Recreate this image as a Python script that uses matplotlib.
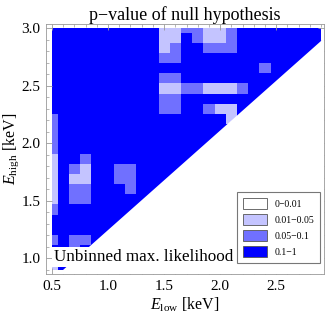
import numpy as np
import matplotlib
matplotlib.use("Agg")
import matplotlib.pyplot as plt
from matplotlib.colors import ListedColormap, BoundaryNorm
from matplotlib.patches import Patch
from matplotlib.ticker import MultipleLocator

plt.rcParams["font.family"] = ["Liberation Serif", "DejaVu Serif"]
plt.rcParams["mathtext.fontset"] = "custom"
plt.rcParams["mathtext.rm"] = "Liberation Serif"
plt.rcParams["mathtext.it"] = "Liberation Serif:italic"

# grid of the scan
e_low = np.linspace(0.5, 2.9, 25)
e_high = np.linspace(3.0, 0.9, 25)   # top row first

# p-value class per cell: 0 -> 0.1-1, 1 -> 0.05-0.1, 2 -> 0.01-0.05, 3 -> 0-0.01
# rows from E_high = 3.0 (top) down to 0.9, columns E_low = 0.5 ... 2.9
pclass_rows = [
    "0000000000221122100000000",
    "0000000000220122100000000",
    "0000000000210011100000000",
    "0000000000110000000000000",
    "0000000000000000000100000",
    "0000000000110000000000000",
    "0000000000221122210000000",
    "0000000000110000000000000",
    "0000000000110012200000000",
    "1000000000000000200000000",
    "1000000000000000000000000",
    "1000000000000000000000000",
    "1000000000000000000000000",
    "2001000000000000000000000",
    "2012001100000000000000000",
    "2022001100000000000000000",
    "2011000100000000000000000",
    "2011000000000000000000000",
    "1000000000000000000000000",
    "0000000000000000000000000",
    "0000000000000000000000000",
    "1011000000000000000000000",
    "0010000000000000000000000",
    "2000000000000000000000000",
    "2000000000000000000000000",
]
pclass = np.array([[int(c) for c in row] for row in pclass_rows])

class_labels = ["0.1\u22121", "0.05\u22120.1", "0.01\u22120.05", "0\u22120.01"]
class_colors = ["#0000ff", "#7070ff", "#c4c4ff", "#ffffff"]

edge_low = [0.598, 2.91]
edge_high = [0.90, 2.896]

# cell edges from the centres, clipped to the scanned range
def edges(c):
    mid = (c[1:] + c[:-1]) / 2
    return np.concatenate([[c[0]], mid, [c[-1]]])

fig = plt.figure(figsize=(3.27, 3.16), dpi=100)
ax = fig.add_axes([0.1407, 0.1329, 0.8501, 0.7911])

cmap = ListedColormap(class_colors)
norm = BoundaryNorm([-0.5, 0.5, 1.5, 2.5, 3.5], cmap.N)
ax.pcolormesh(edges(e_low), edges(e_high), pclass, cmap=cmap, norm=norm,
              shading="flat", antialiased=False, rasterized=True)

# forbidden region below the boundary
slope = (edge_high[1] - edge_high[0]) / (edge_low[1] - edge_low[0])
xx = np.array([0.3, 3.1])
yy = edge_high[0] + slope * (xx - edge_low[0])
ax.fill_between(xx, 0.0, yy, color="white", lw=0, zorder=2)

ax.set_xlim(0.446, 2.927)
ax.set_ylim(0.865, 3.035)

ax.xaxis.set_major_locator(MultipleLocator(0.5))
ax.xaxis.set_minor_locator(MultipleLocator(0.1))
ax.yaxis.set_major_locator(MultipleLocator(0.5))
ax.yaxis.set_minor_locator(MultipleLocator(0.1))
ax.tick_params(which="both", direction="in", top=True, right=True,
               color="#999999", labelsize=11, pad=4)
ax.tick_params(which="major", length=4, width=0.6)
ax.tick_params(which="minor", length=2, width=0.5)
ax.xaxis.set_major_formatter(lambda v, p: f"{v:.1f}")
ax.yaxis.set_major_formatter(lambda v, p: f"{v:.1f}")
for s in ax.spines.values():
    s.set_color("#999999")
    s.set_linewidth(0.6)

ax.set_xlabel(r"$E_{\mathrm{low}}$ [keV]", fontsize=11.5, labelpad=2)
ax.set_ylabel(r"$E_{\mathrm{high}}$ [keV]", fontsize=11.5, labelpad=0)
ax.set_title("p\u2212value of null hypothesis", fontsize=13, pad=3)

ax.text(0.52, 1.012, "Unbinned max. likelihood", fontsize=12.3, zorder=4,
        ha="left", va="center",
        bbox=dict(boxstyle="square,pad=0.12", fc="white", ec="none"))

handles = [Patch(facecolor=c, edgecolor="#555555", lw=0.6) for c in class_colors[::-1]]
leg = ax.legend(handles, class_labels[::-1], loc="lower right", fontsize=7,
                frameon=True, fancybox=False, edgecolor="#555555",
                handlelength=2.4, handleheight=1.4, handletextpad=0.8,
                borderpad=0.6, labelspacing=0.5, borderaxespad=0,
                bbox_to_anchor=(0.9856, 0.044))
leg.get_frame().set_linewidth(0.8)
leg.set_zorder(5)

fig.savefig("out.png", dpi=100)
